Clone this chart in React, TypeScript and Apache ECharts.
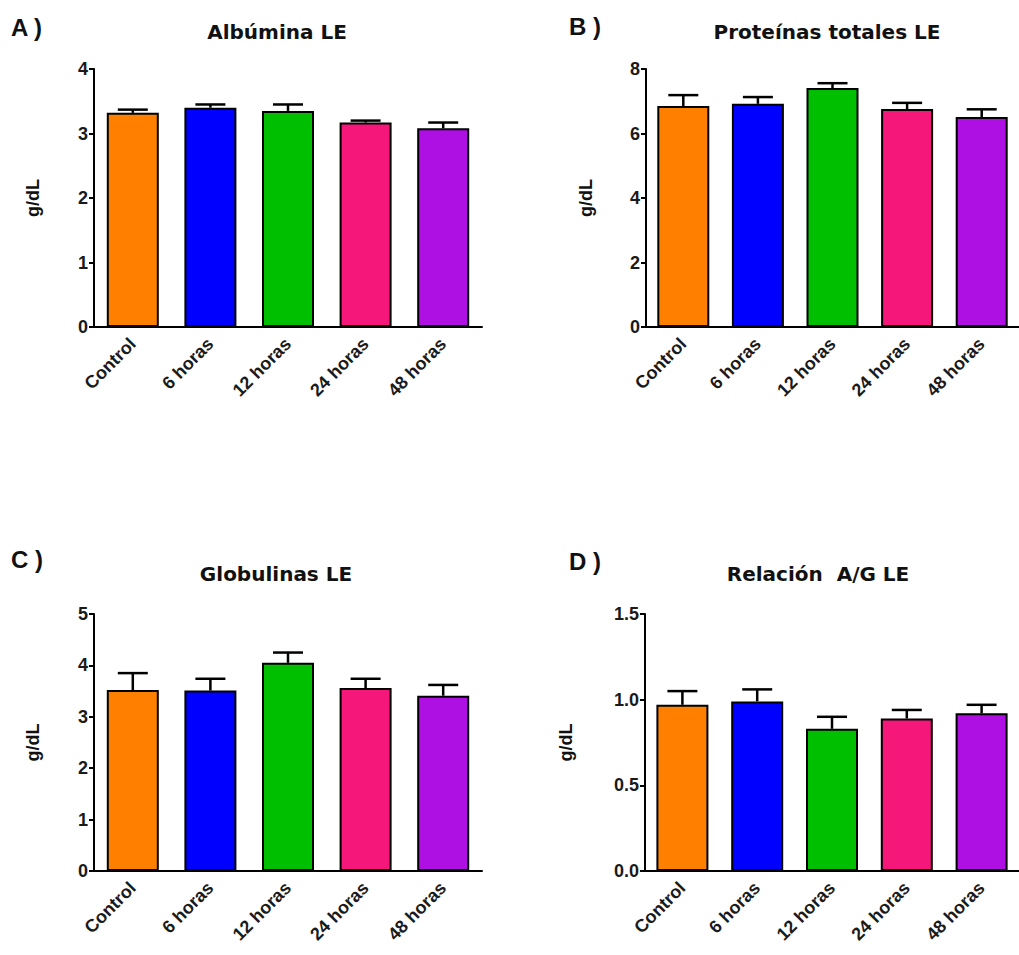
import React, { useEffect, useRef } from "react";
import * as echarts from "echarts";

// Groups along the x axis
const categories = ["Control", "6 horas", "12 horas", "24 horas", "48 horas"];
const barColors = ["#FF8000", "#0000FF", "#00BE00", "#F5177A", "#AE0FE2"];

// A) Albúmina LE (g/dL): means and SEM
const albumina = [3.32, 3.4, 3.35, 3.17, 3.08];
const albuminaErr = [0.05, 0.05, 0.1, 0.03, 0.09];

// B) Proteínas totales LE
const proteinas = [6.85, 6.92, 7.41, 6.76, 6.51];
const proteinasErr = [0.34, 0.21, 0.15, 0.19, 0.24];

// C) Globulinas LE
const globulinas = [3.52, 3.51, 4.05, 3.56, 3.41];
const globulinasErr = [0.33, 0.23, 0.2, 0.18, 0.21];

// D) Relación A/G LE
const relacion = [0.97, 0.99, 0.83, 0.89, 0.92];
const relacionErr = [0.08, 0.07, 0.07, 0.05, 0.05];

// y axis ranges per panel
const yMax = [4, 8, 5, 1.5];
const yStep = [1, 2, 1, 0.5];

const panelTitles = ["Albúmina LE", "Proteínas totales LE", "Globulinas LE", "Relación  A/G LE"];
const panelLetters = ["A )", "B )", "C )", "D )"];

const FONT = "'Liberation Sans', Arial, sans-serif";
const TITLE_FONT = "'DejaVu Sans', Verdana, sans-serif";

const grids = [
  { left: 94, top: 69, width: 388, height: 258 },
  { left: 646, top: 69, width: 386, height: 258 },
  { left: 94, top: 614, width: 388, height: 257 },
  { left: 645, top: 614, width: 386, height: 257 },
];
const nameGaps = [52, 51, 52, 70];
const titlePos = [
  [277, 32],
  [827, 32],
  [276, 574],
  [818, 574],
];
const letterPos = [
  [11, 27],
  [569, 26],
  [11, 559],
  [569, 561],
];

const series = [
  [albumina, albuminaErr],
  [proteinas, proteinasErr],
  [globulinas, globulinasErr],
  [relacion, relacionErr],
];

export default function App() {
  const ref = useRef<HTMLDivElement>(null);

  useEffect(() => {
    if (!ref.current) return;
    const chart = echarts.init(ref.current, undefined, { renderer: "svg" });

    const xAxis = grids.map((_, k) => ({
      type: "category",
      gridIndex: k,
      data: categories,
      boundaryGap: true,
      axisLine: { lineStyle: { color: "#000", width: 2 } },
      axisTick: { alignWithLabel: true, length: 6, lineStyle: { color: "#000", width: 2 } },
      axisLabel: {
        rotate: 45,
        margin: 14,
        color: "#1a1a1a",
        fontFamily: FONT,
        fontWeight: "bold",
        fontSize: 18,
      },
    }));

    const yAxis = grids.map((_, k) => ({
      type: "value",
      gridIndex: k,
      min: 0,
      max: yMax[k],
      interval: yStep[k],
      name: "g/dL",
      nameLocation: "middle",
      nameGap: nameGaps[k],
      nameTextStyle: { color: "#111", fontFamily: FONT, fontWeight: "bold", fontSize: 18 },
      axisLine: { show: true, lineStyle: { color: "#000", width: 2 } },
      axisTick: { show: true, length: 5, lineStyle: { color: "#000", width: 2 } },
      splitLine: { show: false },
      axisLabel: {
        margin: 6,
        color: "#1a1a1a",
        fontFamily: FONT,
        fontWeight: "bold",
        fontSize: 18,
        formatter: (v: number) => (k === 3 ? v.toFixed(1) : String(v)),
      },
    }));

    const bars = series.map(([vals], k) => ({
      type: "bar",
      xAxisIndex: k,
      yAxisIndex: k,
      barWidth: 52,
      data: vals.map((v, i) => ({
        value: v,
        itemStyle: { color: barColors[i], borderColor: "#000", borderWidth: 2 },
      })),
      z: 2,
    }));

    const errorBars = series.map(([vals, errs], k) => ({
      type: "custom",
      xAxisIndex: k,
      yAxisIndex: k,
      z: 3,
      encode: { x: 0, y: 1 },
      data: vals.map((v, i) => [i, v, errs[i]]),
      renderItem: (params: any, api: any) => {
        const i = api.value(0);
        const v = api.value(1);
        const e = api.value(2);
        const base = api.coord([i, v]);
        const top = api.coord([i, v + e]);
        const half = 15;
        const style = { stroke: "#000", lineWidth: 2.5 };
        return {
          type: "group",
          children: [
            { type: "line", shape: { x1: base[0], y1: base[1], x2: top[0], y2: top[1] }, style },
            { type: "line", shape: { x1: base[0] - half, y1: top[1], x2: base[0] + half, y2: top[1] }, style },
          ],
        };
      },
    }));

    const graphic: any[] = [];
    panelTitles.forEach((t, k) => {
      graphic.push({
        type: "text",
        x: titlePos[k][0],
        y: titlePos[k][1],
        style: {
          text: t,
          textAlign: "center",
          textVerticalAlign: "middle",
          fill: "#111",
          font: `bold 20px ${TITLE_FONT}`,
        },
      });
      graphic.push({
        type: "text",
        x: letterPos[k][0],
        y: letterPos[k][1],
        style: {
          text: panelLetters[k],
          textAlign: "left",
          textVerticalAlign: "middle",
          fill: "#111",
          font: `bold 24px ${FONT}`,
        },
      });
    });

    chart.setOption({
      animation: false,
      backgroundColor: "#fff",
      grid: grids.map((g) => ({ ...g, containLabel: false })),
      xAxis,
      yAxis,
      series: [...bars, ...errorBars],
      graphic,
    });

    return () => chart.dispose();
  }, []);

  return (
    <div
      ref={ref}
      style={{ position: "fixed", left: 0, top: 0, width: 1019, height: 955, background: "#fff" }}
    />
  );
}
